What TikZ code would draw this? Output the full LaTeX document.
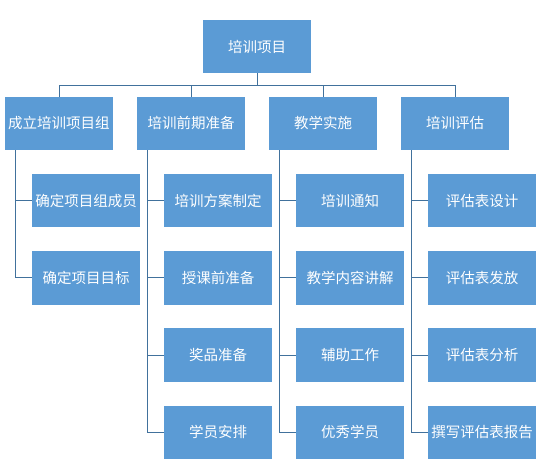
\documentclass[tikz,border=0pt]{standalone}
\usepackage{fontspec}
\newfontfamily\cjk{Noto Sans CJK SC}
\usetikzlibrary{positioning}
\definecolor{BoxBlue}{HTML}{5B9BD5}
\definecolor{LinkBlue}{HTML}{41719C}

\begin{document}
\begin{tikzpicture}[
      x=1pt,y=1pt,
      node distance=23.9pt and 24pt,
      tbox/.style={fill=BoxBlue,text=white,minimum width=108pt,minimum height=53.3pt,
                   inner sep=0pt,outer sep=0pt,font=\cjk\fontsize{14.5pt}{17pt}\selectfont},
      link/.style={draw=LinkBlue,line width=1pt},
    ]
    \useasboundingbox (0,0) rectangle (546,-471);
    \node[tbox] (proj) at (257,-46.65) {培训项目};
    \node[tbox,below left=23.4pt and 12pt of proj.south]  (prep)  {培训前期准备};
    \node[tbox,below right=23.4pt and 12pt of proj.south] (teach) {教学实施};
    \node[tbox,left=of prep]   (team) {成立培训项目组};
    \node[tbox,right=of teach] (eval) {培训评估};

    \node[tbox,below right=24pt and 27pt of team.south west] (member) {确定项目组成员};
    \node[tbox,below=of member] (goal) {确定项目目标};

    \node[tbox,below right=24pt and 27pt of prep.south west] (plan) {培训方案制定};
    \node[tbox,below=of plan]   (precls) {授课前准备};
    \node[tbox,below=of precls] (prize)  {奖品准备};
    \node[tbox,below=of prize]  (seat)   {学员安排};

    \node[tbox,below right=24pt and 27pt of teach.south west] (notice) {培训通知};
    \node[tbox,below=of notice]  (lecture) {教学内容讲解};
    \node[tbox,below=of lecture] (assist)  {辅助工作};
    \node[tbox,below=of assist]  (star)    {优秀学员};

    \node[tbox,below right=24pt and 27pt of eval.south west] (design) {评估表设计};
    \node[tbox,below=of design] (issue)  {评估表发放};
    \node[tbox,below=of issue]  (analy)  {评估表分析};
    \node[tbox,below=of analy]  (report) {撰写评估表报告};

    \foreach \p in {team,prep,teach,eval}
      \draw[link] (proj.south) -- ++(0,-12) -| (\p.north);
    \foreach \p/\c in {team/member,team/goal,prep/plan,prep/precls,prep/prize,prep/seat,
                       teach/notice,teach/lecture,teach/assist,teach/star,
                       eval/design,eval/issue,eval/analy,eval/report}
      \draw[link] ([xshift=10.3pt]\p.south west) |- (\c.west);
  \end{tikzpicture}
\end{document}
